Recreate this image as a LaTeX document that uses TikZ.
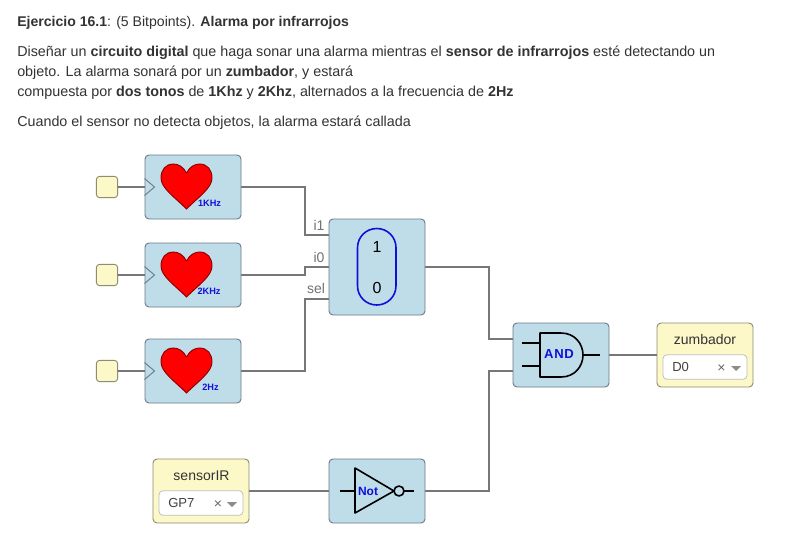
\documentclass[tikz,border=0pt]{standalone}
\usepackage{fontspec}
\setmainfont{Liberation Sans}
\usetikzlibrary{calc}
\definecolor{blockblue}{HTML}{BFDCE9}
\definecolor{blockedge}{HTML}{6B7B85}
\definecolor{inputyellow}{HTML}{FCF8C8}
\definecolor{inputedge}{HTML}{8C8C70}
\definecolor{wirecol}{HTML}{777777}
\definecolor{bodytext}{HTML}{333333}
\definecolor{labelblue}{HTML}{1010D8}
\tikzset{
  block/.style={draw=blockedge,fill=blockblue,rounded corners=3pt,line width=0.7pt,minimum width=72pt,minimum height=48pt,inner sep=0pt},
  bigblock/.style={block,minimum height=72pt},
  inputbox/.style={draw=inputedge,fill=inputyellow,rounded corners=3pt,line width=0.7pt,minimum width=72pt,minimum height=48pt,inner sep=0pt},
  pinbox/.style={draw=inputedge,fill=inputyellow,rounded corners=2.5pt,line width=0.7pt,minimum width=16pt,minimum height=16pt,inner sep=0pt},
  selectbox/.style={draw=black!25,fill=white,rounded corners=3pt,line width=0.6pt,minimum width=63pt,minimum height=18.5pt,inner sep=0pt},
  wire/.style={draw=wirecol,line width=1.1pt},
  gate/.style={draw=black,line width=1.2pt,line join=round},
  para/.style={anchor=base west,inner sep=0pt,text=bodytext,font=\fontsize{10.75pt}{12pt}\selectfont},
  portlabel/.style={inner sep=0pt,text=black!55,font=\fontsize{10.5pt}{12pt}\selectfont},
  freq/.style={inner sep=0pt,text=labelblue,font=\bfseries\fontsize{6.9pt}{8pt}\selectfont},
  fieldname/.style={inner sep=0pt,text=black!80,font=\fontsize{10.5pt}{12pt}\selectfont},
  fieldvalue/.style={inner sep=0pt,text=black!75,font=\fontsize{9.8pt}{12pt}\selectfont},
  clear/.style={inner sep=0pt,text=black!60,font=\fontsize{10.5pt}{12pt}\selectfont},
}
\newcommand{\heartat}[2]{%
  \draw[fill=red,draw=red!55!black,line width=0.7pt,shift={(#1,#2)}]
    (0,0) .. controls (3,-6) and (8,-9) .. (13,-9)
    .. controls (21,-9) and (25.5,-3) .. (25.5,5)
    .. controls (25.5,15) and (12,24) .. (0,36)
    .. controls (-12,24) and (-25.5,15) .. (-25.5,5)
    .. controls (-25.5,-3) and (-21,-9) .. (-13,-9)
    .. controls (-8,-9) and (-3,-6) .. (0,0) -- cycle;}
\newcommand{\clockat}[1]{%
  \draw[draw=blockedge,line width=0.7pt] ($(#1.west)+(0,-8.5)$) -- ($(#1.west)+(10,0)$) -- ($(#1.west)+(0,8.5)$);}
\begin{document}
\begin{tikzpicture}[x=0.75pt,y=-0.75pt]
\fill[white] (0,0) rectangle (795,557);
\useasboundingbox (0,0) rectangle (795,557);

\node[para,font=\fontsize{10.55pt}{12pt}\selectfont] (t1) at (17,26) {\textbf{Ejercicio 16.1}: (5 Bitpoints). \textbf{Alarma por infrarrojos}};
\node[para] (t2) at (17,56) {Diseñar un \textbf{circuito digital} que haga sonar una alarma mientras el \textbf{sensor de infrarrojos} esté detectando un};
\node[para] (t3) at (17,76) {objeto. La alarma sonará por un \textbf{zumbador}, y estará};
\node[para] (t4) at (17,96) {compuesta por \textbf{dos tonos} de \textbf{1Khz} y \textbf{2Khz}, alternados a la frecuencia de \textbf{2Hz}};
\node[para] (t5) at (17,126) {Cuando el sensor no detecta objetos, la alarma estará callada};

\node[pinbox] (p1) at (107,187) {};
\node[pinbox] (p2) at (107,275) {};
\node[pinbox] (p3) at (107,371) {};
\node[block] (c1) at (193,187) {};
\node[block] (c2) at (193,275) {};
\node[block] (c3) at (193,371) {};
\node[bigblock] (mux) at (377,267) {};
\node[block] (and) at (561,355) {};
\node[block] (not) at (377,491) {};
\node[inputbox] (zum) at (705,355) {};
\node[inputbox] (sens) at (201,491) {};

\draw[wire] (p1) -- (c1);
\draw[wire] (p2) -- (c2);
\draw[wire] (p3) -- (c3);
\draw[wire] (c1.east) -- (305,187) |- ($(mux.west)+(0,-32)$);
\draw[wire] (c2.east) -- (305,275) |- (mux.west);
\draw[wire] (c3.east) -- (305,371) |- ($(mux.west)+(0,32)$);
\draw[wire] (mux.east) -- (489,267) |- ($(and.west)+(0,-16)$);
\draw[wire] (not.east) -- (489,491) |- ($(and.west)+(0,16)$);
\draw[wire] (and.east) -- (zum.west);
\draw[wire] (sens.east) -- (not.west);

\clockat{c1}\clockat{c2}\clockat{c3}
\heartat{186.5}{173}
\heartat{186.5}{261}
\heartat{186.5}{357}
\node[freq] (f1) at (209.5,203.5) {1KHz};
\node[freq] (f2) at (209,291.5) {2KHz};
\node[freq] (f3) at (210.5,387.5) {2Hz};

\node[portlabel] (li1) at (319,225) {i1};
\node[portlabel] (li0) at (319,257) {i0};
\node[portlabel] (lsel) at (316,288) {sel};
\draw[draw=labelblue,line width=1.2pt] (357.5,247.75)
  .. controls (357.5,237) and (366,228.5) .. (376.75,228.5)
  .. controls (387.5,228.5) and (396,237) .. (396,247.75)
  -- (396,285.75)
  .. controls (396,296.5) and (387.5,305) .. (376.75,305)
  .. controls (366,305) and (357.5,296.5) .. (357.5,285.75) -- cycle;
\node[inner sep=0pt,font=\fontsize{12pt}{14pt}\selectfont] (m1) at (377,247) {1};
\node[inner sep=0pt,font=\fontsize{12pt}{14pt}\selectfont] (m0) at (377,288) {0};

% AND gate
\draw[gate] (522,343) -- (540,343) (522,366) -- (540,366) (583,355) -- (600,355);
\draw[gate] (540,333) -- (561,333) .. controls (575,333) and (583,344) .. (583,355) .. controls (583,366) and (575,377) .. (561,377) -- (540,377) -- cycle;
\node[inner sep=0pt,text=labelblue,font=\bfseries\fontsize{9.8pt}{12pt}\selectfont] (andl) at (559,354) {A\hspace{0.5pt}N\hspace{0.5pt}D};

% NOT gate
\draw[gate] (340,491) -- (355,491) (404,491) -- (414,491);
\draw[gate] (355,468) -- (394,491) -- (355,513) -- cycle;
\draw[gate] (399,491) circle[radius=5];
\node[inner sep=0pt,text=labelblue,font=\bfseries\fontsize{9pt}{11pt}\selectfont] (notl) at (368,491) {Not};

% zumbador
\node[fieldname] (zt) at (705,339.5) {zumbador};
\node[selectbox] (zs) at (705,367) {};
\node[fieldvalue,anchor=west] (zv) at (672,367) {D0};
\node[clear] (zx) at (721.5,368.5) {×};
\fill[black!45] (731,366) -- (741,366) -- (736,371) -- cycle;

% sensorIR
\node[fieldname] (st) at (201.5,475.5) {sensorIR};
\node[selectbox] (ss) at (201,503) {};
\node[fieldvalue,anchor=west] (sv) at (168,503) {GP7};
\node[clear] (sx) at (218,504.5) {×};
\fill[black!45] (227,502) -- (237,502) -- (232,507) -- cycle;
\end{tikzpicture}
\end{document}
